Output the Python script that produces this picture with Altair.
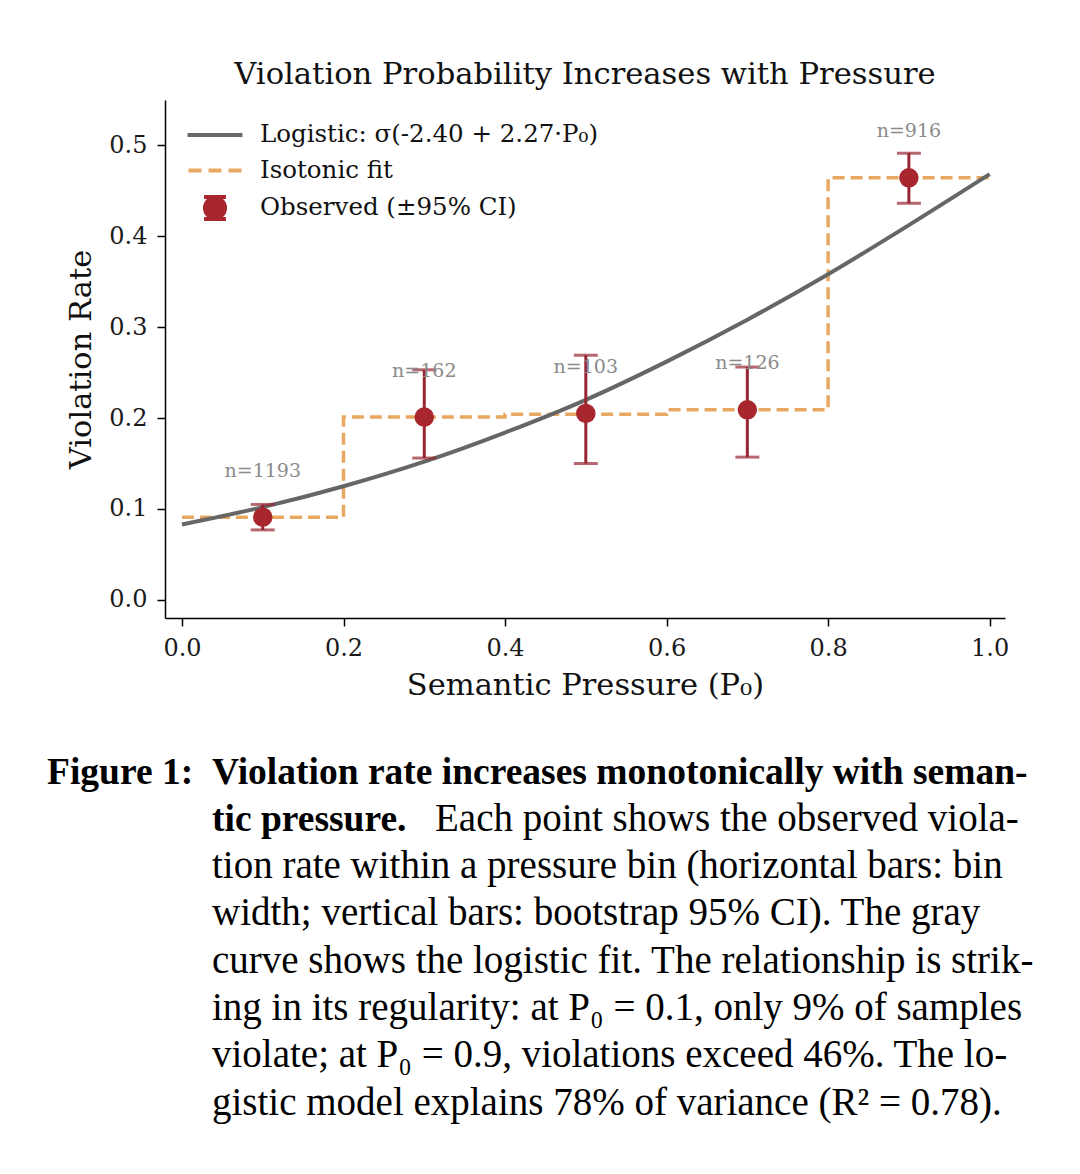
import altair as alt
import pandas as pd

# ---------------- data ----------------
bin_center = [0.1, 0.3, 0.5, 0.7, 0.9]
obs_rate = [0.091, 0.201, 0.205, 0.209, 0.464]
ci_low = [0.077, 0.156, 0.150, 0.157, 0.436]
ci_high = [0.105, 0.253, 0.269, 0.256, 0.491]
bin_n = [1193, 162, 103, 126, 916]

iso_x = [0.0, 0.2, 0.4, 0.6, 0.8, 1.0]
iso_y = [0.091, 0.201, 0.204, 0.209, 0.464, 0.464]

logi_x = [0.0, 0.1, 0.2, 0.3, 0.4, 0.5, 0.6, 0.7, 0.8, 0.9, 1.0]
logi_y = [0.083, 0.102, 0.125, 0.152, 0.184, 0.220, 0.262, 0.308, 0.358, 0.412, 0.468]

x_ticks = [0.0, 0.2, 0.4, 0.6, 0.8, 1.0]
y_ticks = [0.0, 0.1, 0.2, 0.3, 0.4, 0.5]

legend_labels = ["Logistic: σ(-2.40 + 2.27·P₀)", "Isotonic fit", "Observed (±95% CI)"]

title_text = "Violation Probability Increases with Pressure"
x_title = "Semantic Pressure (P₀)"
y_title = "Violation Rate"

cap_lead = "Figure 1:"
cap_bold = ["Violation rate increases monotonically with seman-", "tic pressure."]
cap_line2 = "Each point shows the observed viola-"
cap_rest = [
    "tion rate within a pressure bin (horizontal bars: bin",
    "width; vertical bars: bootstrap 95% CI). The gray",
    "curve shows the logistic fit. The relationship is strik-",
    "ing in its regularity: at P₀ = 0.1, only 9% of samples",
    "violate; at P₀ = 0.9, violations exceed 46%. The lo-",
    "gistic model explains 78% of variance (R² = 0.78).",
]

# ---------------- styles ----------------
SERIF = "DejaVu Serif"
CAP_FONT = "Liberation Serif"
GRAY = "#666666"
ORANGE = "#E8A862"
RED = "#A8262D"
RED_BAR = "#972632"

obs = pd.DataFrame({"x": bin_center, "y": obs_rate, "lo": ci_low, "hi": ci_high,
                    "n": [f"n={v}" for v in bin_n]})
iso = pd.DataFrame({"x": iso_x, "y": iso_y})
logi = pd.DataFrame({"x": logi_x, "y": logi_y})
leg = pd.DataFrame({"s": legend_labels})

xscale = alt.Scale(domain=[-0.021, 1.019], nice=False, zero=False)
yscale = alt.Scale(domain=[-0.0198, 0.5495], nice=False, zero=False)
xaxis = alt.Axis(values=x_ticks, format=".1f", grid=False)
yaxis = alt.Axis(values=y_ticks, format=".1f", grid=False)


def X(field="x"):
    return alt.X(f"{field}:Q", scale=xscale, axis=xaxis, title=x_title)


def Y(field="y"):
    return alt.Y(f"{field}:Q", scale=yscale, axis=yaxis, title=y_title)


iso_line = alt.Chart(iso).mark_line(
    color=ORANGE, strokeWidth=3.5, strokeDash=[12, 6], interpolate="step-after"
).encode(x=X(), y=Y())

logi_line = alt.Chart(logi).mark_line(
    color=GRAY, strokeWidth=4, interpolate="monotone"
).encode(x=X(), y=Y())

bars = alt.Chart(obs).mark_rule(color=RED_BAR, strokeWidth=3).encode(
    x=X(), y=Y("lo"), y2="hi:Q"
)
cap_lo = alt.Chart(obs).mark_tick(color=RED_BAR, orient="horizontal", size=24, thickness=3).encode(
    x=X(), y=Y("lo")
)
cap_hi = alt.Chart(obs).mark_tick(color=RED_BAR, orient="horizontal", size=24, thickness=3).encode(
    x=X(), y=Y("hi")
)
points = alt.Chart(obs).mark_circle(color=RED, size=380, opacity=1).encode(x=X(), y=Y())

labels = alt.Chart(obs).transform_calculate(ly="datum.y + 0.04").mark_text(
    font=SERIF, fontSize=19, color="#8a8a8a", baseline="bottom", align="center"
).encode(x=X(), y=Y("ly"), text="n:N")

legend_paths = [
    "M-1.83,0H1.83",
    "M-1.77,0H-0.9M-0.43,0H0.43M0.9,0H1.77",
    "M-0.67,0A0.67,0.67,0,1,1,0.67,0A0.67,0.67,0,1,1,-0.67,0Z"
    "M-0.73,-0.73H0.73M0,-0.73V0.73M-0.73,0.73H0.73",
]
legend_def = alt.Legend(
    title=None, orient="none", legendX=33, legendY=18, padding=0,
    symbolSize=900, symbolStrokeWidth=4, symbolOpacity=1,
    labelFont=SERIF, labelFontSize=24.5, labelColor="#111111", labelLimit=0,
    labelOffset=28, rowPadding=6.5,
)
legend_range = [GRAY, ORANGE, RED]
legend_layer = alt.Chart(leg).transform_filter("false").mark_point(filled=True).encode(
    fill=alt.Fill("s:N", scale=alt.Scale(domain=legend_labels, range=legend_range),
                  legend=legend_def),
    stroke=alt.Stroke("s:N", scale=alt.Scale(domain=legend_labels, range=legend_range),
                      legend=legend_def),
    shape=alt.Shape("s:N", scale=alt.Scale(domain=legend_labels, range=legend_paths),
                    legend=legend_def),
)

one = pd.DataFrame({"k": [0]})
cap_a = alt.Chart(one).mark_text(
    font=CAP_FONT, fontSize=37.5, fontWeight="bold", align="left", baseline="alphabetic", color="black"
).encode(x=alt.value(-118), y=alt.value(684), text=alt.value(cap_lead))
cap_b = alt.Chart(one).mark_text(
    font=CAP_FONT, fontSize=37.5, fontWeight="bold", align="left", baseline="alphabetic",
    lineHeight=47.3, color="black"
).encode(x=alt.value(47), y=alt.value(684), text=alt.value(cap_bold))
cap_c = alt.Chart(one).mark_text(
    font=CAP_FONT, fontSize=39, align="left", baseline="alphabetic", color="black"
).encode(x=alt.value(270), y=alt.value(731), text=alt.value(cap_line2))
cap_d = alt.Chart(one).mark_text(
    font=CAP_FONT, fontSize=39, align="left", baseline="alphabetic", lineHeight=47.3, color="black"
).encode(x=alt.value(47), y=alt.value(778), text=alt.value(cap_rest))

chart = alt.layer(
    iso_line, logi_line, bars, cap_lo, cap_hi, points, labels, legend_layer,
    cap_a, cap_b, cap_c, cap_d
).properties(
    width=840, height=518,
    title=alt.TitleParams(text=title_text, font=SERIF, fontSize=30.6, fontWeight="normal",
                          color="#111111", offset=9, anchor="middle"),
    autosize=alt.AutoSizeParams(type="none"),
    padding={"left": 157, "top": 92, "right": 67, "bottom": 548},
).configure_view(stroke=None).configure_axis(
    labelFont=SERIF, labelFontSize=24, labelColor="#1a1a1a",
    titleFont=SERIF, titleFontSize=30.5, titleFontWeight="normal", titleColor="#111111",
    domainColor="black", domainWidth=1.5, tickColor="black", tickWidth=1.5, tickSize=8,
    labelPadding=10,
).configure_axisX(titlePadding=10).configure_axisY(titlePadding=12)

chart.save("out.html", embed_options={"renderer": "svg", "actions": False})
